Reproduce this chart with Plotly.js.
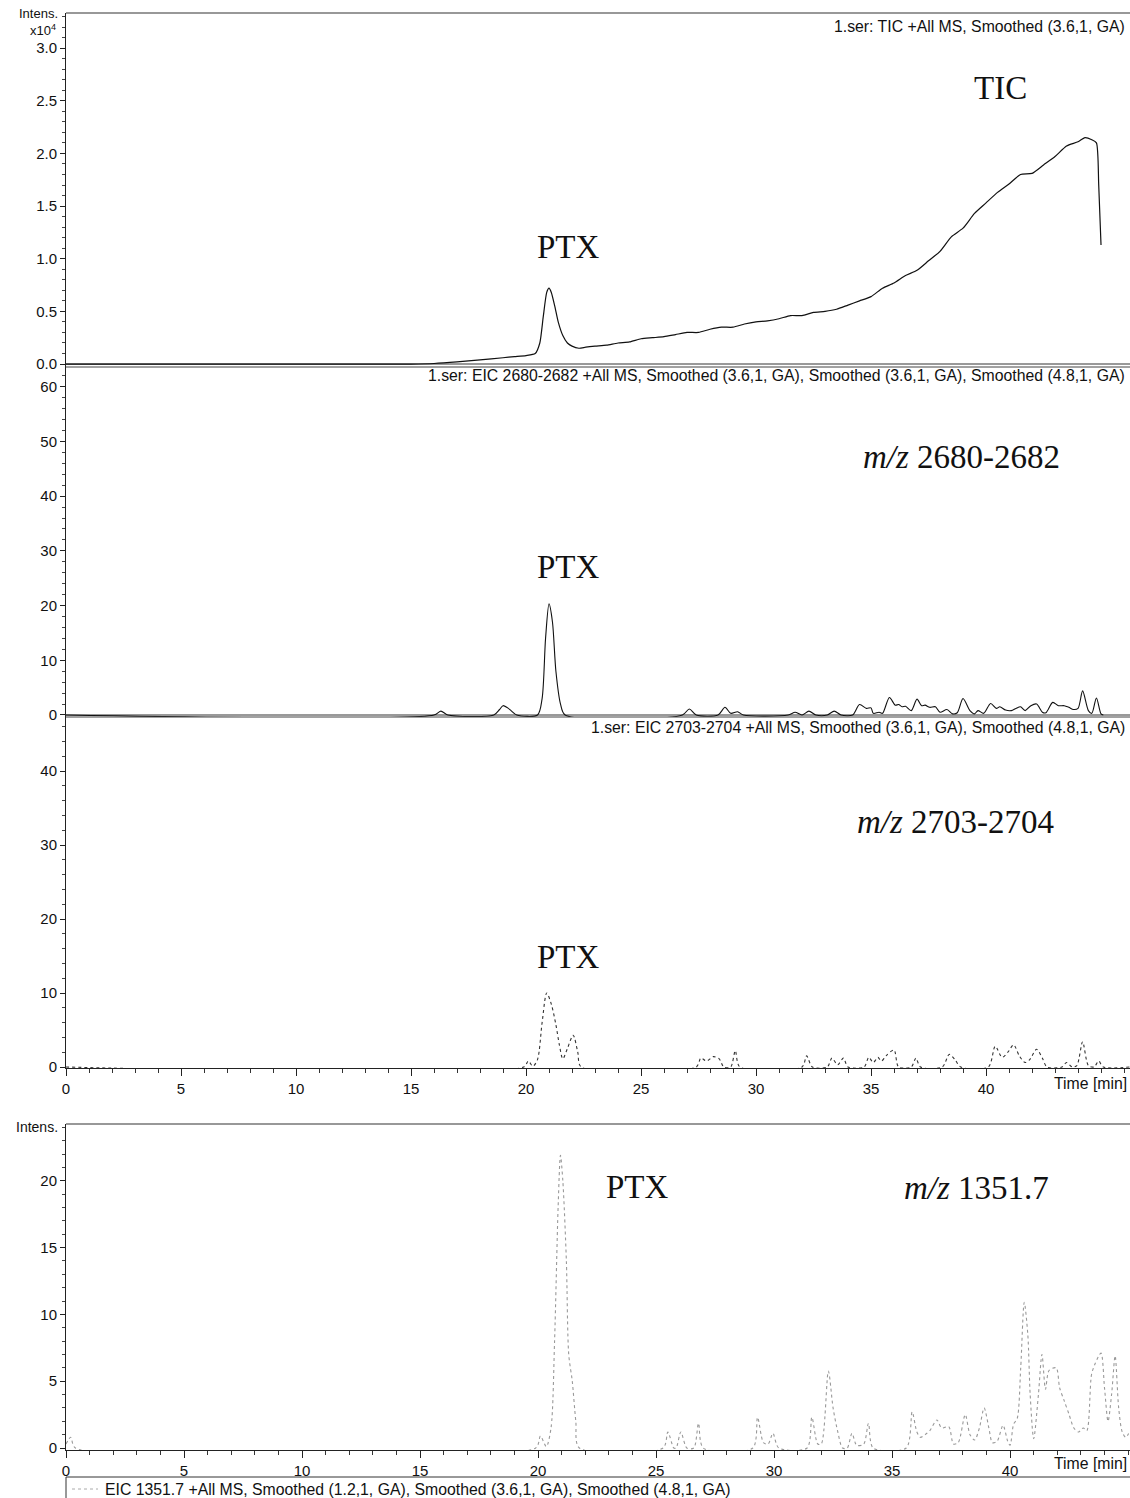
<!DOCTYPE html>
<html>
<head>
<meta charset="utf-8">
<script src="https://cdn.plot.ly/plotly-3.0.1.min.js"></script>
<style>html,body{margin:0;padding:0;background:#fff;}#chart{width:1130px;height:1498px;}</style>
</head>
<body>
<div id="chart"></div>
<script>
// ---- Data (time [min], intensity) ----
// Panel 1: TIC (x10^4)
const ticTime = [0,5,10,15,16,17,18,19,19.5,20,20.4,20.6,20.75,20.9,21.0,21.1,21.25,21.4,21.6,21.8,22.0,22.3,22.6,23.0,23.5,24.0,24.5,25.0,25.5,26.0,26.5,27.0,27.5,28.0,28.5,29.0,29.5,30.0,30.5,31.0,31.5,32.0,32.5,33.0,33.5,34.0,34.5,35.0,35.5,36.0,36.5,37.0,37.5,38.0,38.5,39.0,39.5,40.0,40.5,41.0,41.5,42.0,42.5,43.0,43.5,44.0,44.3,44.6,44.8,44.9,45.0];
const ticValue = [0,0,0,0,0.005,0.02,0.04,0.06,0.07,0.08,0.10,0.20,0.45,0.68,0.72,0.68,0.55,0.40,0.27,0.20,0.17,0.15,0.16,0.17,0.18,0.20,0.21,0.24,0.25,0.26,0.28,0.30,0.30,0.33,0.35,0.35,0.38,0.40,0.41,0.43,0.46,0.46,0.49,0.50,0.52,0.56,0.60,0.64,0.72,0.77,0.84,0.89,0.98,1.07,1.21,1.29,1.43,1.53,1.63,1.71,1.80,1.81,1.89,1.97,2.07,2.11,2.15,2.13,2.10,1.70,1.13];

// Panel 2: EIC 2680-2682
const eic2680 = [[0,0],[16.0,0],[16.3,0.7],[16.6,0],[18.6,0],[18.85,1.0],[19.0,1.7],[19.2,1.3],[19.35,0.8],[19.6,0],
 [20.5,0],[20.7,3],[20.85,14],[21.0,20.3],[21.15,17],[21.3,8],[21.5,2],[21.7,0],
 [26.8,0],[27.1,1.1],[27.4,0],[28.35,0],[28.65,1.4],[28.9,0.3],[29.2,0.6],[29.45,0],
 [31.4,0],[31.7,0.5],[32.0,0],[32.3,0.7],[32.6,0],[33.1,0],[33.4,0.7],[33.7,0],
 [34.2,0],[34.5,1.9],[34.8,1.2],[35.0,1.3],[35.1,0.3],[35.35,0.5],[35.5,0.3],[35.8,3.2],[36.05,1.8],[36.2,1.9],[36.35,1.5],[36.5,1.6],[36.75,0.8],
 [37.0,2.9],[37.2,1.7],[37.35,1.8],[37.55,1.4],[37.8,1.5],[38.0,0.5],[38.3,1.0],[38.55,0.2],[38.75,0.4],[39.0,3.0],[39.3,0.8],[39.5,0.2],[39.65,0.8],[39.9,0.3],
 [40.2,2.1],[40.45,1.2],[40.6,1.5],[40.85,0.9],[41.1,0.8],[41.3,1.2],[41.5,1.5],[41.7,0.8],[41.95,1.7],[42.2,2.0],[42.45,0.5],[42.6,0.4],[42.9,2.3],[43.15,1.7],[43.4,1.7],[43.6,1.4],[43.8,1.0],[44.0,1.2],[44.2,4.4],[44.45,0.8],[44.6,0.3],[44.8,3.1],[45.0,0.2],[45.1,0]];

// Panel 3: EIC 2703-2704
const eic2703 = [[0,0],[19.9,0],[20.1,0.8],[20.3,0.1],[20.5,1.0],[20.7,6],[20.9,10.0],[21.1,8.5],[21.3,5.7],[21.45,3],[21.6,1.1],[21.8,2.5],[22.05,4.3],[22.25,2],[22.4,0],
 [27.4,0],[27.6,1.2],[27.85,0.8],[28.15,1.4],[28.4,1.1],[28.6,0],[28.9,0],[29.1,2.2],[29.3,0],
 [32.0,0],[32.2,1.5],[32.45,0],[33.1,0],[33.3,1.2],[33.55,0.3],[33.8,1.2],[34.0,0],
 [34.7,0],[34.9,1.3],[35.1,0.6],[35.3,1.3],[35.45,0.8],[35.65,1.5],[36.0,2.3],[36.2,0],
 [36.75,0],[36.95,1.2],[37.15,0],[38.1,0],[38.4,1.7],[38.65,1.0],[38.9,0],
 [40.1,0],[40.4,2.8],[40.7,1.3],[40.95,2.0],[41.2,3.0],[41.45,1.5],[41.7,0.6],[41.9,1.0],[42.2,2.4],[42.45,1.2],[42.65,0],
 [43.3,0],[43.5,0.6],[43.75,0],[43.95,0.2],[44.2,3.4],[44.45,0.2],[44.7,0],[44.9,0.8],[45.1,0],[46.26,0]];

// Panel 4: EIC 1351.7
const eic1351 = [[0,0.3],[0.2,0.8],[0.4,0],[19.9,0],[20.1,0.9],[20.35,0.1],[20.55,1.5],[20.7,8],[20.85,18],[20.95,21.9],[21.05,20],[21.2,14],[21.3,7],[21.45,5],[21.6,2],[21.75,0],
 [25.3,0],[25.5,1.2],[25.75,0],[25.85,0],[26.05,1.2],[26.3,0],[26.6,0],[26.8,1.85],[27.0,0],
 [29.1,0],[29.3,2.3],[29.55,0.4],[29.75,0.3],[29.95,1.1],[30.2,0],
 [31.4,0],[31.6,2.3],[31.85,0.3],[32.0,0.3],[32.3,5.75],[32.5,3],[32.7,1.2],[32.9,0],[33.1,0],[33.3,1.1],[33.5,0.2],[33.8,0.3],[34.0,1.85],[34.2,0],
 [35.6,0],[35.85,2.7],[36.05,1.2],[36.2,0.8],[36.4,1.0],[36.6,1.3],[36.9,2.1],[37.1,1.5],[37.4,1.6],[37.6,0.3],[37.8,0.4],[38.1,2.5],[38.3,1.0],[38.5,0.6],[38.7,1.5],[38.9,3.0],[39.1,1.5],[39.25,0.4],[39.45,0.5],[39.7,1.7],[39.9,0.5],[40.0,0.2],
 [40.15,1.8],[40.3,2.2],[40.45,6],[40.6,10.9],[40.75,8.5],[40.85,4],[41.0,0.7],[41.2,4],[41.35,7.0],[41.5,4.4],[41.65,5.8],[41.95,6.0],[42.1,4.5],[42.3,3.5],[42.5,2.5],[42.7,1.5],[42.9,1.2],[43.1,1.5],[43.25,1.3],[43.45,5.5],[43.6,6.3],[43.85,7.1],[44.0,4.5],[44.15,2.0],[44.3,4],[44.45,6.9],[44.6,3],[44.75,1.2],[44.9,0.8],[45.08,1.3]];

// Tick labels
const timeTicks = [0,5,10,15,20,25,30,35,40];
const timeTickText = ['0','5','10','15','20','25','30','35','40'];
const ticTicks = [0,0.5,1.0,1.5,2.0,2.5,3.0];

// ---- Layout helpers ----
const W=1130, H=1498, ML=66, MR=0, MT=13, MB=48;
const PH = H-MT-MB, PW = W-ML-MR;
const fy = py => (H-MB-py)/PH;
const fx = px => (px-ML)/PW;

const sans = 'Liberation Sans, Arial, sans-serif';
const serif = 'Liberation Serif, Times New Roman, serif';
const tickFont = {family:sans, size:15, color:'#111'};
const smallFont = {family:sans, size:15.8, color:'#111'};
const bigFont = {family:serif, size:33, color:'#111'};

const traces = [
  {x:ticTime, y:ticValue, xaxis:'x', yaxis:'y', mode:'lines', line:{color:'#111', width:1.2, shape:'spline', smoothing:0.6}},
  {x:eic2680.map(p=>p[0]), y:eic2680.map(p=>p[1]), xaxis:'x', yaxis:'y2', mode:'lines', line:{color:'#111', width:1.1, shape:'spline', smoothing:0.8}},
  {x:eic2703.map(p=>p[0]), y:eic2703.map(p=>p[1]), xaxis:'x', yaxis:'y3', mode:'lines', line:{color:'#333', width:1.1, dash:'dot', shape:'spline', smoothing:0.8}},
  {x:eic1351.map(p=>p[0]), y:eic1351.map(p=>p[1]), xaxis:'x2', yaxis:'y4', mode:'lines', line:{color:'#999', width:1.1, dash:'dot', shape:'spline', smoothing:0.8}}
];

function yax(domain, range, dtick, minor, fmt){
  return {domain:domain, range:range, anchor:'x', showline:true, linecolor:'#222', linewidth:1,
    ticks:'outside', ticklen:5, tickcolor:'#222', tickfont:tickFont, dtick:dtick, tick0:0,
    tickformat:fmt||'', showgrid:false, zeroline:false,
    minor:{dtick:minor, tick0:0, ticks:'outside', ticklen:3, tickcolor:'#444', showgrid:false}};
}

const xMinor = {tickmode:'linear', tick0:0, dtick:1, ticks:'outside', ticklen:4, tickcolor:'#333', showgrid:false};

const layout = {
  width:W, height:H, margin:{l:ML, r:MR, t:MT, b:MB},
  paper_bgcolor:'#fff', plot_bgcolor:'#fff', showlegend:false,
  xaxis:{domain:[0,1], range:[0,46.26], anchor:'y3', showline:true, linecolor:'#222', linewidth:1,
    tickmode:'array', tickvals:timeTicks, ticktext:timeTickText, ticks:'outside', ticklen:7, tickcolor:'#222',
    tickfont:tickFont, showgrid:false, zeroline:false, minor:xMinor},
  xaxis2:{domain:[0,1], range:[0,45.08], anchor:'y4', showline:true, linecolor:'#222', linewidth:1,
    tickmode:'array', tickvals:timeTicks, ticktext:timeTickText, ticks:'outside', ticklen:7, tickcolor:'#222',
    tickfont:tickFont, showgrid:false, zeroline:false, minor:xMinor},
  yaxis: Object.assign(yax([fy(367),1], [-0.028,3.333], 0.5, 0.1, '.1f'), {tickmode:'array', tickvals:ticTicks, zeroline:true, zerolinecolor:'#999', zerolinewidth:2}),
  yaxis2: Object.assign(yax([fy(717),fy(367)], [-0.37,63.6], 10, 2), {zeroline:true, zerolinecolor:'#999', zerolinewidth:2}),
  yaxis3: yax([fy(1068),fy(717)], [-0.135,47.3], 10, 2),
  yaxis4: Object.assign(yax([0,fy(1124)], [-0.15,24.25], 5, 1), {anchor:'x2'}),
  shapes:[
    {type:'line', xref:'paper', yref:'paper', x0:0, x1:1, y0:1, y1:1, line:{color:'#333', width:1.2}},
    {type:'line', xref:'paper', yref:'paper', x0:0, x1:1, y0:fy(367), y1:fy(367), line:{color:'#444', width:1}},
    {type:'line', xref:'paper', yref:'paper', x0:0, x1:1, y0:fy(717), y1:fy(717), line:{color:'#444', width:1}},
    {type:'line', xref:'paper', yref:'paper', x0:0, x1:1, y0:fy(1124), y1:fy(1124), line:{color:'#333', width:1.2}},
    {type:'rect', xref:'paper', yref:'paper', x0:0, x1:fx(1140), y0:fy(1477), y1:fy(1505), line:{color:'#333', width:1}, fillcolor:'rgba(0,0,0,0)'},
    {type:'line', xref:'paper', yref:'paper', x0:fx(72), x1:fx(98), y0:fy(1489), y1:fy(1489), line:{color:'#aaa', width:1, dash:'dot'}}
  ],
  annotations:[
    {xref:'paper', yref:'paper', x:fx(60), y:fy(14), xanchor:'right', yanchor:'middle', text:'Intens.', showarrow:false, font:{family:sans, size:13, color:'#111'}},
    {xref:'paper', yref:'paper', x:fx(58), y:fy(30), xanchor:'right', yanchor:'middle', text:'x10<sup>4</sup>', showarrow:false, font:{family:sans, size:13, color:'#111'}},
    {xref:'paper', yref:'paper', x:fx(60), y:fy(1127), xanchor:'right', yanchor:'middle', text:'Intens.', showarrow:false, font:{family:sans, size:14, color:'#111'}},
    {xref:'paper', yref:'paper', x:fx(1127), y:fy(27), xanchor:'right', yanchor:'middle', text:'1.ser: TIC +All MS, Smoothed (3.6,1, GA)', showarrow:false, font:smallFont},
    {xref:'paper', yref:'paper', x:fx(1127), y:fy(376), xanchor:'right', yanchor:'middle', text:'1.ser: EIC 2680-2682 +All MS, Smoothed (3.6,1, GA), Smoothed (3.6,1, GA), Smoothed (4.8,1, GA)', showarrow:false, font:smallFont},
    {xref:'paper', yref:'paper', x:fx(1127), y:fy(727), xanchor:'right', yanchor:'middle', text:'1.ser: EIC 2703-2704 +All MS, Smoothed (3.6,1, GA), Smoothed (4.8,1, GA)', showarrow:false, font:smallFont},
    {xref:'paper', yref:'paper', x:fx(103), y:fy(1489), xanchor:'left', yanchor:'middle', text:'EIC 1351.7 +All MS, Smoothed (1.2,1, GA), Smoothed (3.6,1, GA), Smoothed (4.8,1, GA)', showarrow:false, font:smallFont},
    {xref:'paper', yref:'paper', x:fx(1129), y:fy(1083), xanchor:'right', yanchor:'middle', text:'Time [min]', showarrow:false, font:smallFont},
    {xref:'paper', yref:'paper', x:fx(1129), y:fy(1463), xanchor:'right', yanchor:'middle', text:'Time [min]', showarrow:false, font:smallFont},
    {xref:'paper', yref:'paper', x:fx(1000), y:fy(88), xanchor:'center', yanchor:'middle', text:'TIC', showarrow:false, font:bigFont},
    {xref:'paper', yref:'paper', x:fx(568), y:fy(247), xanchor:'center', yanchor:'middle', text:'PTX', showarrow:false, font:bigFont},
    {xref:'paper', yref:'paper', x:fx(961), y:fy(457), xanchor:'center', yanchor:'middle', text:'<i>m/z</i> 2680-2682', showarrow:false, font:bigFont},
    {xref:'paper', yref:'paper', x:fx(568), y:fy(567), xanchor:'center', yanchor:'middle', text:'PTX', showarrow:false, font:bigFont},
    {xref:'paper', yref:'paper', x:fx(955), y:fy(822), xanchor:'center', yanchor:'middle', text:'<i>m/z</i> 2703-2704', showarrow:false, font:bigFont},
    {xref:'paper', yref:'paper', x:fx(568), y:fy(957), xanchor:'center', yanchor:'middle', text:'PTX', showarrow:false, font:bigFont},
    {xref:'paper', yref:'paper', x:fx(637), y:fy(1187), xanchor:'center', yanchor:'middle', text:'PTX', showarrow:false, font:bigFont},
    {xref:'paper', yref:'paper', x:fx(976), y:fy(1188), xanchor:'center', yanchor:'middle', text:'<i>m/z</i> 1351.7', showarrow:false, font:bigFont}
  ]
};

Plotly.newPlot('chart', traces, layout, {staticPlot:true, displayModeBar:false});
</script>
</body>
</html>
